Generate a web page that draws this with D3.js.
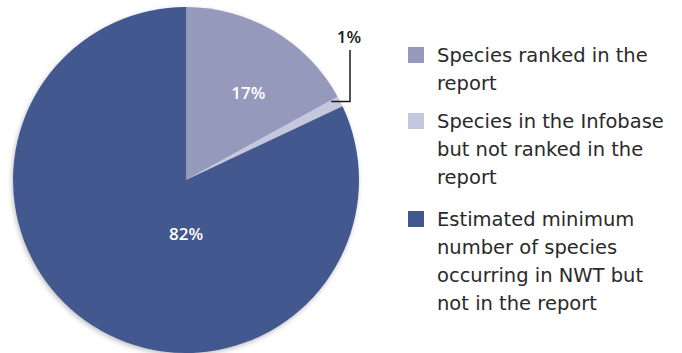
<!DOCTYPE html>
<html>
<head>
<meta charset="utf-8">
<script src="https://cdn.jsdelivr.net/npm/d3@7/dist/d3.min.js"></script>
<style>
  html, body { margin: 0; padding: 0; background: #ffffff; }
  svg { display: block; }
</style>
</head>
<body>
<svg id="chart" width="682" height="353"></svg>
<script>
// Share of species, in percent
const categories = [
  "Species ranked in the report",
  "Species in the Infobase but not ranked in the report",
  "Estimated minimum number of species occurring in NWT but not in the report"
];
const values = [17, 1, 82];
const sliceLabels = ["17%", "1%", "82%"];
const colors = ["#9599bc", "#c4c7dd", "#42588f"];
const legendLines = [
  ["Species ranked in the", "report"],
  ["Species in the Infobase", "but not ranked in the", "report"],
  ["Estimated minimum", "number of species", "occurring in NWT but", "not in the report"]
];

const svg = d3.select("#chart");
const labelFont = "'Open Sans', 'DejaVu Sans', sans-serif";
const legendFont = "'DejaVu Sans', sans-serif";

const defs = svg.append("defs");
const shadow = defs.append("filter").attr("id", "shadow")
  .attr("x", "-10%").attr("y", "-10%").attr("width", "120%").attr("height", "120%");
shadow.append("feDropShadow")
  .attr("dx", -1).attr("dy", 2).attr("stdDeviation", 2.5)
  .attr("flood-color", "#000").attr("flood-opacity", 0.25);

const cx = 186, cy = 180, r = 173;

const pie = d3.pie().sort(null).value(d => d);
const arcs = pie(values);
const arc = d3.arc().innerRadius(0).outerRadius(r);

const g = svg.append("g").attr("transform", `translate(${cx},${cy})`);

g.append("g").attr("filter", "url(#shadow)")
  .selectAll("path")
  .data(arcs)
  .join("path")
  .attr("d", arc)
  .attr("fill", (d, i) => colors[i]);

// In-slice labels for the two large slices: [radius fraction, angle fraction within slice]
const labelPlace = [[0.62, 0.58], null, [0.31, 0.5]];
arcs.forEach((d, i) => {
  if (!labelPlace[i]) return;
  const [rf, af] = labelPlace[i];
  const a = i === 2 ? Math.PI : d.startAngle + af * (d.endAngle - d.startAngle);
  const x = Math.sin(a) * r * rf;
  const y = -Math.cos(a) * r * rf;
  g.append("text")
    .attr("x", x)
    .attr("y", y)
    .attr("dy", "0.36em")
    .attr("text-anchor", "middle")
    .attr("fill", "#ffffff")
    .attr("font-family", labelFont)
    .attr("font-size", 17)
    .attr("font-weight", 600)
    .text(sliceLabels[i]);
});

// Callout for the thin 1% slice
{
  const d = arcs[1];
  const mid = (d.startAngle + d.endAngle) / 2;
  const edgeX = Math.sin(mid) * r;
  const edgeY = -Math.cos(mid) * r;
  const lineX = 164;
  const topY = -130;
  g.append("path")
    .attr("d", `M${edgeX - 9},${edgeY} L${lineX},${edgeY} L${lineX},${topY}`)
    .attr("fill", "none")
    .attr("stroke", "#1a1a1a")
    .attr("stroke-width", 1.5);
  g.append("text")
    .attr("x", lineX - 1)
    .attr("y", topY - 7)
    .attr("text-anchor", "middle")
    .attr("fill", "#1a1a1a")
    .attr("font-family", labelFont)
    .attr("font-size", 17)
    .attr("font-weight", 600)
    .text(sliceLabels[1]);
}

// Legend
const legend = svg.append("g").attr("transform", "translate(408,0)");
const groupTops = [47, 113, 211];
const lineH = 28;
legendLines.forEach((lines, i) => {
  const gi = legend.append("g").attr("transform", `translate(0,${groupTops[i]})`);
  gi.append("rect")
    .attr("width", 16).attr("height", 16)
    .attr("fill", colors[i]);
  lines.forEach((t, j) => {
    gi.append("text")
      .attr("x", 29)
      .attr("y", 8 + j * lineH)
      .attr("dy", "0.36em")
      .attr("fill", "#2a2a2a")
      .attr("font-family", legendFont)
      .attr("font-size", 19.5)
      .text(t);
  });
});
</script>
</body>
</html>
